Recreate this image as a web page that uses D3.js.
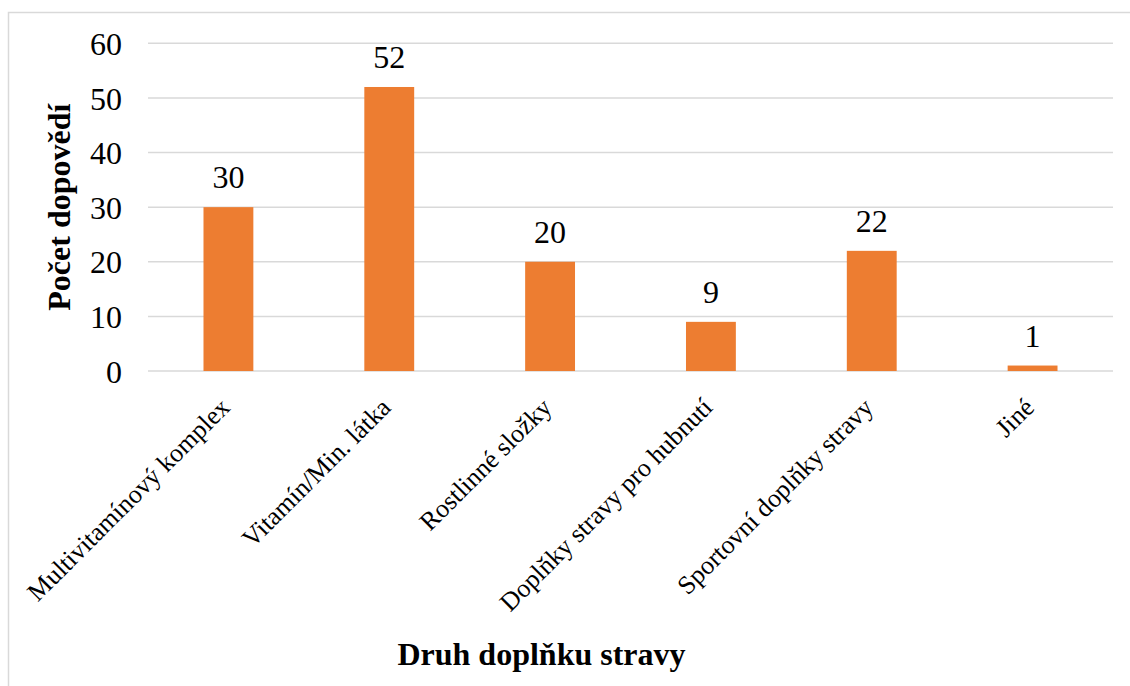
<!DOCTYPE html>
<html>
<head>
<meta charset="utf-8">
<script src="https://cdn.jsdelivr.net/npm/d3@7"></script>
<style>
  html, body { margin: 0; padding: 0; background: #fff; }
  svg { display: block; }
</style>
</head>
<body>
<svg id="chart" width="1130" height="686"></svg>
<script>
// Druh doplňku stravy – počet odpovědí
const categories = [
  "Multivitamínový komplex",
  "Vitamín/Min. látka",
  "Rostlinné složky",
  "Doplňky stravy pro hubnutí",
  "Sportovní doplňky stravy",
  "Jiné"
];
const values = [30, 52, 20, 9, 22, 1];
const yTicks = [0, 10, 20, 30, 40, 50, 60];
const xTitle = "Druh doplňku stravy";
const yTitle = "Počet dopovědí";

const FONT = "'Liberation Serif', 'Times New Roman', serif";
const svg = d3.select("#chart");
const W = 1130, H = 686;
const plot = { left: 148, right: 1113, top: 43.3, bottom: 371 };

// outer chart frame (runs past the right and bottom edge)
svg.append("rect")
  .attr("x", 8.5).attr("y", 12.5)
  .attr("width", W + 20).attr("height", H + 20)
  .attr("fill", "#fff").attr("stroke", "#d9d9d9").attr("stroke-width", 1.5);

const x = d3.scaleBand().domain(categories).range([plot.left, plot.right])
  .paddingInner(0.69).paddingOuter(0.345);
const y = d3.scaleLinear().domain([0, 60]).range([plot.bottom, plot.top]);

// horizontal gridlines
svg.append("g").selectAll("line").data(yTicks).join("line")
  .attr("x1", plot.left).attr("x2", plot.right)
  .attr("y1", d => y(d)).attr("y2", d => y(d))
  .attr("stroke", "#d9d9d9").attr("stroke-width", 1.5);

// y tick labels
svg.append("g").selectAll("text").data(yTicks).join("text")
  .attr("x", 122).attr("y", d => y(d) + 11.7)
  .attr("text-anchor", "end")
  .style("font-family", FONT).style("font-size", "32px")
  .attr("fill", "#000")
  .text(d => d);

// bars
svg.append("g").selectAll("rect").data(values).join("rect")
  .attr("x", (d, i) => x(categories[i]))
  .attr("width", x.bandwidth())
  .attr("y", d => y(d))
  .attr("height", d => y(0) - y(d))
  .attr("fill", "#ed7d31");

// value labels
svg.append("g").selectAll("text").data(values).join("text")
  .attr("x", (d, i) => x(categories[i]) + x.bandwidth() / 2)
  .attr("y", d => y(d) - 19)
  .attr("text-anchor", "middle")
  .style("font-family", FONT).style("font-size", "32px")
  .attr("fill", "#000")
  .text(d => d);

// rotated category labels
svg.append("g").selectAll("text").data(categories).join("text")
  .attr("transform", d => `translate(${x(d) + x.bandwidth() / 2 + 3},${plot.bottom + 38}) rotate(-45)`)
  .attr("text-anchor", "end")
  .style("font-family", FONT).style("font-size", "26px")
  .attr("fill", "#000")
  .text(d => d);

// axis titles
svg.append("text")
  .attr("x", 541.5).attr("y", 665)
  .attr("text-anchor", "middle")
  .style("font-family", FONT).style("font-size", "32px").style("font-weight", "bold")
  .text(xTitle);

svg.append("text")
  .attr("transform", `translate(70,${(plot.top + plot.bottom) / 2}) rotate(-90)`)
  .attr("text-anchor", "middle")
  .style("font-family", FONT).style("font-size", "32px").style("font-weight", "bold")
  .text(yTitle);
</script>
</body>
</html>
